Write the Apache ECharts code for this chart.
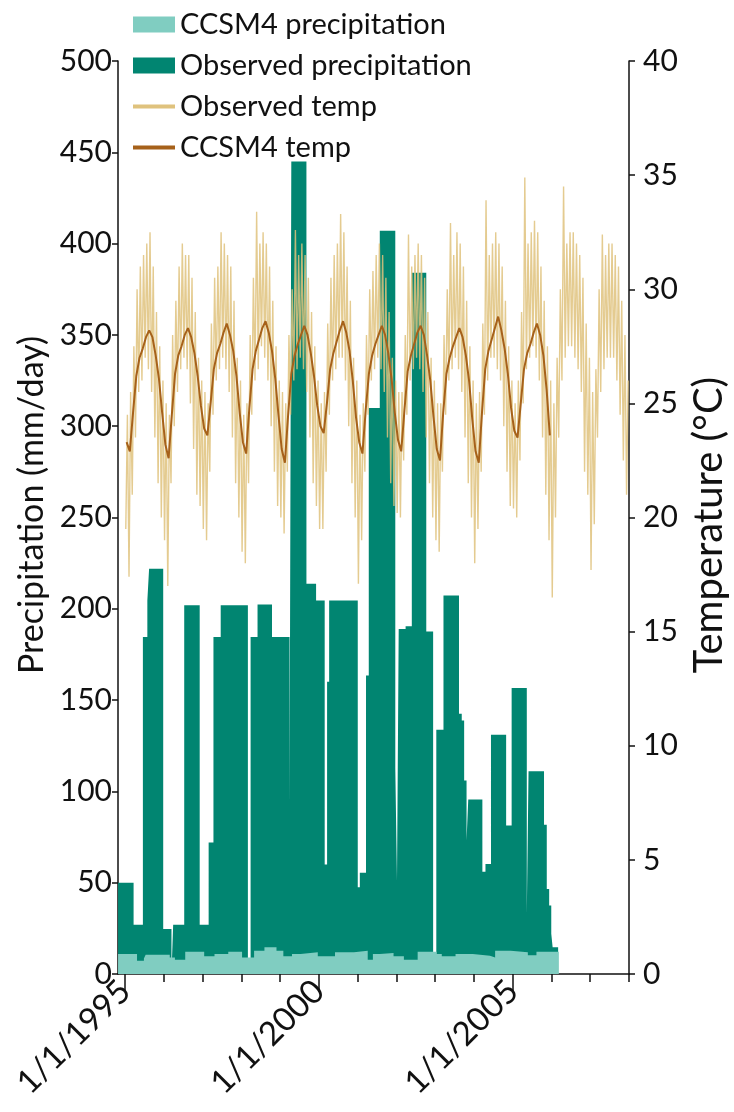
<!DOCTYPE html>
<html><head><meta charset="utf-8">
<script src="https://cdn.jsdelivr.net/npm/echarts@6/dist/echarts.min.js"></script>
<style>html,body{margin:0;padding:0;background:#fff}#c{width:734px;height:1112px}</style>
</head><body><div id="c"></div>
<script>
// ---- data ----
const yearTicks = [1995,1996,1997,1998,1999,2000,2001,2002,2003,2004,2005,2006,2007,2008];
const yearLabels = [1995,2000,2005];
// observed precipitation: [decimal year where step starts, mm/day]
const obsPrecip = [[1994.822,50],[1995.222,27],[1995.462,184.5],[1995.577,204.6],[1995.622,222],[1995.986,24.7],[1996.199,0],[1996.243,27],[1996.528,202],[1996.927,27],[1997.158,72],[1997.282,184.5],[1997.469,202],[1998.17,0],[1998.24,184.5],[1998.419,202.4],[1998.792,184.5],[1999.245,91],[1999.29,445],[1999.68,213.7],[1999.929,204.6],[2000.151,60],[2000.213,160],[2000.266,204.6],[2001.004,47.5],[2001.057,55.4],[2001.217,163.5],[2001.288,310],[2001.572,407],[2001.972,113],[2002.016,50.6],[2002.06,189],[2002.238,190.5],[2002.398,384],[2002.771,187.6],[2002.948,0],[2003.03,133.7],[2003.215,207.3],[2003.615,142.5],[2003.686,138.8],[2003.748,106],[2003.81,73],[2003.854,95.5],[2004.218,56],[2004.298,60.3],[2004.44,131],[2004.831,81.3],[2004.973,156.6],[2005.364,32.9],[2005.409,111],[2005.808,81.7],[2005.879,46.6],[2005.941,37.5],[2005.995,22],[2006.03,14.6],[2006.172,0]];
// CCSM4 precipitation: [decimal year where step starts, mm/day]
const ccsmPrecip = [[1994.822,11],[1995.311,7.3],[1995.488,8.5],[1995.533,10.6],[1996.155,9],[1996.288,7.8],[1996.554,12.2],[1997.043,9.7],[1997.309,11],[1997.664,12.2],[1998.02,9],[1998.33,12.8],[1998.597,14.6],[1998.908,12.8],[1999.085,9.7],[1999.307,11],[1999.529,11.9],[1999.973,9.7],[2000.417,11.9],[2000.906,12.8],[2001.261,7.8],[2001.394,11],[2001.572,11.5],[2001.927,9.7],[2002.194,7.8],[2002.549,12.2],[2003.037,11],[2003.171,9.7],[2003.526,11],[2003.97,10],[2004.414,9],[2004.547,12.8],[2004.947,11.9],[2005.391,10.3],[2005.613,12.2],[2006.19,0]];
// CCSM4 temperature, monthly Jan 1995 .. Dec 2005 (°C)
const ccsmTempStart = 1995;
const ccsmTemp = [
23.3,22.9,24.6,26.2,27.0,27.4,27.9,28.2,27.9,27.1,26.1,24.6,
23.2,22.6,24.5,26.3,27.1,27.5,28.0,28.3,27.9,27.2,26.2,24.9,
23.9,23.6,25.0,26.5,27.2,27.6,28.1,28.5,28.0,27.3,26.2,24.6,
23.3,22.8,24.8,26.5,27.3,27.8,28.3,28.6,28.1,27.3,26.1,24.5,
23.0,22.4,24.5,26.3,27.1,27.6,28.0,28.4,28.0,27.2,26.2,24.9,
24.0,23.7,25.0,26.5,27.2,27.7,28.2,28.6,28.1,27.3,26.0,24.4,
23.3,22.8,24.7,26.3,27.1,27.6,28.0,28.4,28.0,27.2,26.1,24.6,
23.4,22.9,24.7,26.4,27.1,27.6,28.1,28.4,28.0,27.1,26.0,24.4,
23.0,22.5,24.6,26.3,27.0,27.5,27.9,28.3,27.9,27.1,26.0,24.3,
22.9,22.4,24.6,26.5,27.3,27.8,28.3,28.8,28.2,27.4,26.3,24.8,
23.8,23.5,25.0,26.5,27.2,27.6,28.1,28.5,28.0,27.1,25.6,23.6];
// observed temperature, half-monthly Jan 1995 .. Dec 2007 (°C)
const obsTempStart = 1995;
const obsTemp = [
19.5,24.5,17.4,25.5,21,27.5,23.5,30,25.5,31,26,31.5,27,32,26.5,32.5,25.5,31,23.5,29,21.5,27.5,20,26,
19,25,17,24.5,21.5,28,24,29.5,25.5,31,26.5,32,27,31.5,26.5,31.5,25,30.5,23,29,21,27,20.5,26,
19.5,25.5,19,25,22,28.5,24.5,30.5,26,31,26.5,32.5,27,32,26.5,31.5,25.5,31,23.5,29.5,21.5,27,20,26,
18.5,24.5,18,25,21.5,28,24.5,30.5,26,33.4,26.5,32,27.5,32.5,27,32,26,31,24,29.5,22,27.5,20.5,26,
20,25.5,19.3,25,22,28,24.5,30,26,32.6,26.5,31.5,27,32,26.5,31.5,25.5,30.5,23.5,29,21.5,27.5,20.5,26,
19.5,25,19.5,25.5,22,28.5,24.5,30.5,26,31.5,26.5,32,27,33.3,27,32.5,26,31,24,29.5,21.5,27,20,26,
17.1,24.5,19,25,22,28,24.5,30,26,30.8,26.5,31.5,27,32,26.5,31.5,25.5,30.5,23.5,29,21.5,27,20.5,26,
20.2,25.5,20,25.5,22.5,28,24.5,32.4,26,31,26.5,31.5,27,32,26.5,31.5,25.5,30.5,23.5,29,21.5,27,20,26,
19,25,18.5,25,22,28,24.5,30,26,32.9,26.5,31.5,27,32.5,26.5,32,25.5,31,23.5,29.5,21.5,27.5,20,26,
18,25,19.5,25.5,22,28.5,24.5,33.9,26,31.5,27,32,27,32.5,26.5,32,26,31,24,29.5,22,27.5,20.5,26,
20.4,25,20,26,22.5,29,25,34.9,26.5,32,27,32.5,27.5,33,27,32.5,26,31,23.5,29.5,21,27.5,19,26,
16.5,25,20,27,23.5,30,26,34.5,27,32,27.5,32.5,27.5,32.5,27,32,26.5,31.5,25.5,30.5,22,28.5,21,27,
17.7,25.5,19.7,26.5,23.5,30,25.5,32.4,26.5,31.5,27,32,27,32,27,31.5,26,31,24.5,29.5,22.5,28,21,26];

// ---- build ----
const ccsmTempData = ccsmTemp.map((v,i)=>[ccsmTempStart + (i+0.5)/12, v]);
const obsTempData = obsTemp.map((v,i)=>[obsTempStart + (i+0.5)/24, v]);
const FONT = 'Lato';
const axisCol = '#111';
const chart = echarts.init(document.getElementById('c'), null, {renderer:'canvas'});
chart.setOption({
  animation:false,
  backgroundColor:'#fff',
  textStyle:{fontFamily:FONT},
  grid:{left:118,right:105,top:61,bottom:138,containLabel:false,outerBoundsMode:'none'},
  legend:{
    orient:'vertical', left:128, top:4, itemWidth:42, itemHeight:16, itemGap:10,
    textStyle:{fontFamily:FONT,fontSize:29,color:'#111',lineHeight:31},
    itemStyle:{borderWidth:0},
    data:[
      {name:'CCSM4 precipitation',icon:'rect'},
      {name:'Observed precipitation',icon:'rect'},
      {name:'Observed temp',icon:'path://M0,0L0,0M0,6L42,6L42,10L0,10ZM42,16L42,16'},
      {name:'CCSM4 temp',icon:'path://M0,0L0,0M0,6L42,6L42,10L0,10ZM42,16L42,16'}
    ]
  },
  xAxis:[{
    type:'value', min:1994.82, max:2008, position:'bottom',
    axisLine:{show:true,onZero:false,lineStyle:{color:axisCol,width:1.5}},
    axisTick:{show:true,length:8,customValues:yearTicks,lineStyle:{color:axisCol,width:1.5}},
    axisLabel:{customValues:yearLabels,rotate:45,margin:12,fontSize:33,color:'#111',fontFamily:FONT,
      formatter:v=>'1/1/'+Math.round(v)},
    splitLine:{show:false}
  },{
    type:'value', min:1994.82, max:2008, position:'bottom',
    axisLine:{show:false},
    axisTick:{show:true,length:18,customValues:yearLabels,lineStyle:{color:axisCol,width:1.5}},
    axisLabel:{show:false},
    splitLine:{show:false}
  }],
  yAxis:[{
    type:'value', min:0, max:500, interval:50, position:'left',
    name:'Precipitation (mm/day)', nameLocation:'middle', nameRotate:90, nameGap:60,
    nameTextStyle:{fontSize:34,color:'#111',fontFamily:FONT,padding:[0,0,0,25]},
    axisLine:{show:true,lineStyle:{color:axisCol,width:1.5}},
    axisTick:{show:true,length:6,lineStyle:{color:axisCol,width:1.5}},
    axisLabel:{fontSize:30,color:'#111',margin:6,fontFamily:FONT},
    splitLine:{show:false}
  },{
    type:'value', min:0, max:40, interval:5, position:'right',
    name:'Temperature (°C)', nameLocation:'middle', nameRotate:90, nameGap:60,
    nameTextStyle:{fontSize:40,color:'#111',fontFamily:FONT,padding:[0,15,0,0]},
    axisLine:{show:true,lineStyle:{color:axisCol,width:1.5}},
    axisTick:{show:true,length:6,lineStyle:{color:axisCol,width:1.5}},
    axisLabel:{fontSize:30,color:'#111',margin:14,fontFamily:FONT},
    splitLine:{show:false}
  }],
  series:[{
    name:'Observed precipitation', type:'line', step:'end', data:obsPrecip,
    symbol:'none', lineStyle:{width:0,opacity:0}, itemStyle:{color:'#018571'},
    areaStyle:{color:'#018571',opacity:1}, z:1
  },{
    name:'CCSM4 precipitation', type:'line', step:'end', data:ccsmPrecip,
    symbol:'none', lineStyle:{width:0,opacity:0}, itemStyle:{color:'#80cdc1'},
    areaStyle:{color:'#80cdc1',opacity:1}, z:2
  },{
    name:'Observed temp', type:'line', yAxisIndex:1, data:obsTempData,
    symbol:'none', itemStyle:{color:'#dfc27d'}, lineStyle:{color:'#dfc27d',width:1.4,opacity:0.85}, z:3
  },{
    name:'CCSM4 temp', type:'line', yAxisIndex:1, data:ccsmTempData,
    symbol:'none', itemStyle:{color:'#a6611a'}, lineStyle:{color:'#a6611a',width:2}, z:4
  }]
});
</script></body></html>
